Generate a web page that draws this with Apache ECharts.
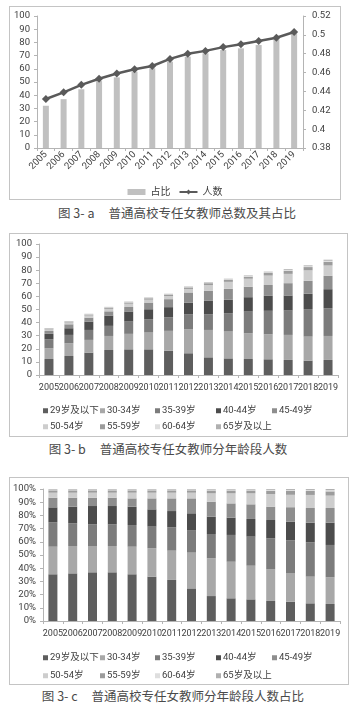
<!DOCTYPE html>
<html>
<head>
<meta charset="utf-8">
<script src="https://cdn.jsdelivr.net/npm/echarts@6/dist/echarts.min.js"></script>
<style>
  html, body { margin: 0; padding: 0; background: #fff; }
  body { width: 354px; height: 705px; position: relative; overflow: hidden; }
  .box { position: absolute; box-sizing: border-box; border: 1px solid #c4c4c4; }
  .cap {
    position: absolute; left: 0; width: 354px; text-align: center;
    font-family: "Noto Sans CJK SC", sans-serif; font-size: 12.5px; color: #4a4a4a;
    line-height: 16px; white-space: pre;
  }
</style>
</head>
<body>
<div id="chartA" class="box" style="left:9px;top:6px;width:332px;height:194px;"></div>
<div class="cap" style="top:205px;">图 3- a     普通高校专任女教师总数及其占比</div>
<div id="chartB" class="box" style="left:9px;top:233px;width:339px;height:204px;"></div>
<div class="cap" style="top:441px;left:-9px;">图 3- b     普通高校专任女教师分年龄段人数</div>
<div id="chartC" class="box" style="left:9px;top:477px;width:340px;height:208px;"></div>
<div class="cap" style="top:688px;left:-4px;">图 3- c     普通高校专任女教师分年龄段人数占比</div>

<script>
// ---- 数据 ----
const years = ['2005', '2006', '2007', '2008', '2009', '2010', '2011', '2012',
  '2013', '2014', '2015', '2016', '2017', '2018', '2019'];

// 图 3-a
const shareBars = [32, 37, 44.5, 50.7, 53.5, 57.8, 60.4, 65.4, 69.2, 71.7, 74.2, 75.5, 78, 82.3, 86.9];
const countLine = [0.432, 0.439, 0.447, 0.4535, 0.459, 0.4635, 0.467, 0.4745, 0.48, 0.483, 0.487, 0.49, 0.4935, 0.497, 0.503];

// 图 3-b 分年龄段人数
const ageNames = ['29岁及以下', '30-34岁', '35-39岁', '40-44岁', '45-49岁', '50-54岁', '55-59岁', '60-64岁', '65岁及以上'];
const cnt29 = [12.2, 14.5, 17.1, 19.1, 19.6, 19.6, 18.6, 16.6, 13.5, 12.7, 12.2, 12.0, 11.5, 11.0, 11.5];
const cnt30 = [8.2, 9.7, 9.7, 10.7, 11.8, 12.8, 15.1, 18.3, 20.9, 20.5, 19.7, 19.1, 19.1, 18.3, 18.3];
const cnt35 = [6.9, 6.4, 7.6, 7.7, 9.4, 10.2, 10.4, 11.5, 12.0, 14.0, 16.5, 17.9, 18.6, 21.0, 21.2];
const cnt40 = [4.1, 5.1, 6.4, 7.9, 7.7, 7.6, 7.7, 8.9, 10.2, 10.2, 11.0, 11.4, 11.5, 11.7, 14.5];
const cnt45 = [2.2, 3.0, 3.0, 3.2, 3.4, 5.1, 6.1, 7.7, 7.7, 8.4, 8.0, 8.3, 9.4, 9.9, 10.2];
const cnt50 = [1.2, 1.4, 1.6, 1.9, 2.5, 2.2, 2.4, 2.7, 4.3, 5.3, 6.1, 7.2, 7.1, 8.0, 7.9];
const cnt55 = [0.7, 0.7, 0.8, 0.9, 1.0, 1.1, 1.1, 1.2, 1.5, 1.5, 1.6, 2.0, 2.4, 2.5, 2.8];
const cnt60 = [0.2, 0.2, 0.3, 0.3, 0.3, 0.3, 0.3, 0.4, 0.4, 0.5, 0.5, 0.5, 0.6, 0.7, 0.8];
const cnt65 = [0.2, 0.2, 0.2, 0.3, 0.3, 0.3, 0.3, 0.3, 0.4, 0.4, 0.4, 0.5, 0.6, 0.6, 0.8];

// 图 3-c 分年龄段人数占比 (%)
const pct29 = [35.4, 36.1, 36.9, 36.9, 35.4, 33.6, 31.1, 24.7, 18.9, 17.2, 16.4, 15.2, 14.6, 13.4, 12.9];
const pct30 = [20.9, 20.7, 19.9, 19.9, 20.9, 21.5, 22.2, 27.1, 28.6, 27.7, 25.5, 23.9, 21.4, 20.2, 20.2];
const pct35 = [18.4, 17.2, 16.4, 16.4, 16.4, 16.4, 17.7, 17.1, 18.4, 20.3, 22.0, 23.5, 25.1, 26.0, 24.5];
const pct40 = [11.4, 12.6, 13.9, 13.9, 13.9, 13.1, 12.3, 12.7, 13.1, 13.1, 13.4, 13.9, 14.2, 14.9, 16.9];
const pct45 = [7.3, 6.8, 6.3, 6.3, 6.3, 8.3, 9.6, 11.3, 11.4, 10.8, 11.1, 10.1, 10.9, 11.1, 11.1];
const pct50 = [3.8, 3.8, 3.8, 3.8, 4.3, 4.3, 4.3, 4.3, 6.3, 7.6, 8.3, 9.6, 9.4, 9.9, 9.4];
const pct55 = [1.8, 1.8, 1.8, 1.8, 1.8, 1.8, 1.8, 1.8, 2.2, 2.2, 2.2, 2.5, 2.9, 3.0, 3.2];
const pct60 = [0.5, 0.5, 0.5, 0.5, 0.5, 0.5, 0.5, 0.5, 0.6, 0.6, 0.6, 0.7, 0.8, 0.8, 0.9];
const pct65 = [0.5, 0.5, 0.5, 0.5, 0.5, 0.5, 0.5, 0.5, 0.5, 0.5, 0.5, 0.6, 0.7, 0.7, 0.9];

// ---- 样式 ----
const FONT = 'Roboto, "Noto Sans CJK SC", sans-serif';
const textColor = '#404040';
const axisColor = '#b4b4b4';
const ageColors = ['#5e5e5e', '#a8a8a8', '#7c7c7c', '#4c4c4c', '#8e8e8e', '#cdcdcd', '#9c9c9c', '#dedede', '#b0b0b0'];

// 图 3-a
const chartA = echarts.init(document.getElementById('chartA'));
chartA.setOption({
  animation: false,
  textStyle: { fontFamily: FONT },
  grid: { left: 27, top: 9, width: 266, height: 132 },
  legend: {
    top: 175, left: 'center', itemGap: 8, itemWidth: 18, itemHeight: 6,
    textStyle: { color: textColor, fontSize: 10, fontFamily: FONT },
    data: [
      { name: '占比', icon: 'rect' },
      { name: '人数' },
    ],
  },
  xAxis: {
    type: 'category', data: years,
    axisLine: { lineStyle: { color: axisColor } },
    axisTick: { show: true, length: 3, lineStyle: { color: axisColor } },
    axisLabel: { rotate: 45, interval: 0, fontSize: 9.5, color: textColor, margin: 5 },
  },
  yAxis: [
    {
      type: 'value', min: 0, max: 100, interval: 10,
      axisLine: { show: true, lineStyle: { color: axisColor } },
      axisTick: { show: true, length: 3, lineStyle: { color: axisColor } },
      axisLabel: { fontSize: 9.5, color: textColor, margin: 7 },
      splitLine: { show: false },
    },
    {
      type: 'value', min: 0.38, max: 0.52, interval: 0.02,
      axisLine: { show: true, lineStyle: { color: axisColor } },
      axisTick: { show: true, length: 3, lineStyle: { color: axisColor } },
      axisLabel: { fontSize: 9.5, color: textColor, margin: 9 },
      splitLine: { show: false },
    },
  ],
  series: [
    {
      name: '占比', type: 'bar', data: shareBars, barWidth: 6,
      itemStyle: { color: '#c0c0c0' },
    },
    {
      name: '人数', type: 'line', yAxisIndex: 1, data: countLine,
      symbol: 'diamond', symbolSize: 8,
      lineStyle: { color: '#5a5a5a', width: 2.5 },
      itemStyle: { color: '#5a5a5a' },
    },
  ],
});

// 图 3-b / 3-c 图例分两行、按列对齐
const legendCols = [28, 85, 140, 201, 257];
const makeLegends = (row1Top, row2Top) => ageNames.map((name, i) => ({
  data: [name],
  left: legendCols[i % 5],
  top: i < 5 ? row1Top : row2Top,
  icon: 'rect', itemWidth: 5, itemHeight: 5, itemGap: 0,
  textStyle: { color: textColor, fontSize: 9.5, fontFamily: FONT, padding: [0, 0, 0, -3] },
}));

const makeStackSeries = (arrays, stack) => arrays.map((arr, i) => ({
  name: ageNames[i], type: 'bar', stack: stack, data: arr, barWidth: 9,
  itemStyle: { color: ageColors[i] },
}));

const stackAxes = (gridOpt, yOpt) => ({
  grid: gridOpt,
  xAxis: {
    type: 'category', data: years,
    axisLine: { lineStyle: { color: axisColor } },
    axisTick: { show: true, length: 3, lineStyle: { color: axisColor } },
    axisLabel: { interval: 0, fontSize: 9, color: textColor, margin: 8 },
  },
  yAxis: Object.assign({
    type: 'value',
    axisLine: { show: true, lineStyle: { color: axisColor } },
    axisTick: { show: true, length: 3, lineStyle: { color: axisColor } },
    splitLine: { show: false },
  }, yOpt),
});

const chartB = echarts.init(document.getElementById('chartB'));
chartB.setOption(Object.assign({
  animation: false,
  textStyle: { fontFamily: FONT },
  legend: makeLegends(167, 183),
  series: makeStackSeries([cnt29, cnt30, cnt35, cnt40, cnt45, cnt50, cnt55, cnt60, cnt65], 'cnt'),
}, stackAxes(
  { left: 29, top: 10, width: 299, height: 131 },
  { min: 0, max: 100, interval: 10, axisLabel: { fontSize: 9.5, color: textColor, margin: 7 } }
)));

const chartC = echarts.init(document.getElementById('chartC'));
chartC.setOption(Object.assign({
  animation: false,
  textStyle: { fontFamily: FONT },
  legend: makeLegends(170, 188),
  series: makeStackSeries([pct29, pct30, pct35, pct40, pct45, pct50, pct55, pct60, pct65], 'pct'),
}, stackAxes(
  { left: 33, top: 11, width: 297, height: 132 },
  { min: 0, max: 100, interval: 10, axisLabel: { fontSize: 9.5, color: textColor, margin: 7, formatter: '{value}%' } }
)));
</script>
</body>
</html>
